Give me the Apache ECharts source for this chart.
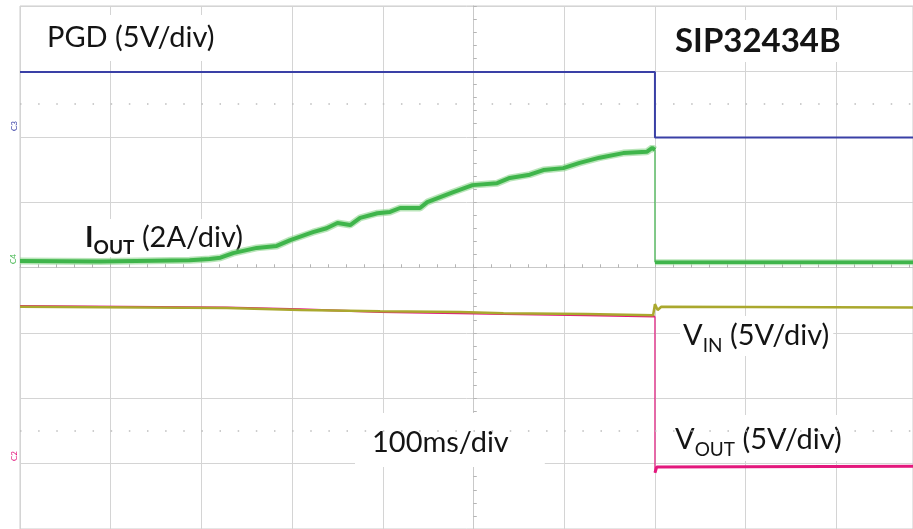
<!DOCTYPE html>
<html><head><meta charset="utf-8">
<script src="https://cdn.jsdelivr.net/npm/echarts@6/dist/echarts.min.js"></script>
<style>html,body{margin:0;padding:0;background:#fff}#c{width:913px;height:529px}</style>
</head><body><div id="c"></div>
<script>
// time in ms relative to screen centre (100 ms/div; the screenshot is cropped a little on the right),
// level in divisions relative to screen centre
const timeRange = [-500, 484.5];
const levelRange = [-4, 4];

// PGD (5V/div)
const pgd = [[-500, 2.99], [200, 2.99], [200, 1.99], [484.5, 1.99]];
// IOUT (2A/div) before and after the switch-off edge
const ioutRamp = [[-500, 0.10], [-412, 0.09], [-313, 0.11], [-291, 0.13], [-279, 0.15], [-265, 0.22],
  [-239, 0.30], [-217, 0.33], [-202, 0.42], [-177, 0.54], [-162, 0.60], [-150, 0.68], [-136, 0.65],
  [-125, 0.76], [-106, 0.83], [-92, 0.85], [-81, 0.91], [-59, 0.91], [-51, 1.00], [-23, 1.15],
  [-1, 1.26], [26, 1.29], [40, 1.37], [62, 1.42], [77, 1.49], [99, 1.52], [117, 1.60], [139, 1.68],
  [165, 1.75], [191, 1.77], [197, 1.83], [200, 1.80]];
const ioutOff = [[200, 0.08], [484.5, 0.08]];
// VIN (5V/div)
const vin = [[-500, -0.60], [-272, -0.62], [-191, -0.65], [-103, -0.67], [-15, -0.68], [33, -0.70],
  [124, -0.71], [198, -0.73], [200, -0.56], [203, -0.65], [207, -0.60], [484.5, -0.61]];
// VOUT (5V/div)
const voutOn = [[-500, -0.59], [-272, -0.61], [-191, -0.64], [-103, -0.68], [-15, -0.70], [33, -0.71],
  [124, -0.73], [200, -0.75]];
const voutOff = [[200, -3.14], [202, -3.05], [484.5, -3.04]];
const cursorLevels = [2.5, -2.5];

const FONT = 'Lato, "Open Sans", sans-serif';
const TXT = '#141414';

const chart = echarts.init(document.getElementById('c'), null, {renderer: 'canvas'});

function xAx(inside, grid) {
  return {
    type: 'value', min: timeRange[0], max: timeRange[1], interval: 100,
    axisLine: {show: true, onZero: true, onZeroAxisIndex: 0, lineStyle: {color: '#c9c9c9', width: 1}},
    axisTick: {show: true, inside: inside, length: 3, lineStyle: {color: '#b5b5b5'}},
    minorTick: {show: true, splitNumber: 5, length: 3, lineStyle: {color: '#b5b5b5'}},
    axisLabel: {show: false},
    splitLine: {show: grid, lineStyle: {color: '#d4d4d4', width: 1}}
  };
}
function yAx(inside, grid) {
  return {
    type: 'value', min: levelRange[0], max: levelRange[1], interval: 1,
    axisLine: {show: true, onZero: true, onZeroAxisIndex: 0, lineStyle: {color: '#c9c9c9', width: 1}},
    axisTick: {show: true, inside: inside, length: 3, lineStyle: {color: '#b5b5b5'}},
    minorTick: {show: true, splitNumber: 5, length: 3, lineStyle: {color: '#b5b5b5'}},
    axisLabel: {show: false},
    splitLine: {show: grid, lineStyle: {color: '#d4d4d4', width: 1}}
  };
}
function trace(data, color, width, z, opacity) {
  return {type: 'line', data: data, showSymbol: false, symbol: 'none', silent: true, z: z,
    lineStyle: {color: color, width: width, opacity: opacity == null ? 1 : opacity}, animation: false};
}
function edge(a, b, color, width, z) {
  return trace([a[a.length - 1], b[0]], color, width, z);
}

const BLUE = '#3a40a6', GREEN = '#3fb54b', OLIVE = '#aaa82e', PINK = '#e3187d';

const series = [
  {type: 'line', data: [], z: 0, silent: true, animation: false,
    markLine: {silent: true, symbol: 'none', label: {show: false}, animation: false,
      lineStyle: {color: '#bdbdbd', width: 1.5, type: [1.5, 16.64]},
      data: cursorLevels.map(v => ({yAxis: v}))}},
  trace(voutOn, PINK, 2, 2),
  edge(voutOn, voutOff, PINK, 1.2, 2),
  trace(voutOff, PINK, 3, 2),
  trace(vin, OLIVE, 2.5, 3),
  trace(ioutRamp, '#7fd07f', 7, 4, 0.55),
  trace(ioutOff, '#7fd07f', 6, 4, 0.55),
  trace(ioutRamp, GREEN, 4, 4),
  edge(ioutRamp, ioutOff, GREEN, 1.2, 4),
  trace(ioutOff, GREEN, 3.5, 4),
  trace(pgd, BLUE, 2, 5)
];

function label(x, y, text, rich, extra) {
  return {type: 'text', z: 1, x: x, y: y, style: Object.assign({
    text: text, rich: rich, fill: TXT, font: '29px ' + FONT,
    backgroundColor: '#fff', padding: [2, 4],
    align: 'left', verticalAlign: 'middle', textAlign: 'left', textVerticalAlign: 'middle'
  }, extra || {})};
}
const R = {fontFamily: FONT, fontSize: 29, lineHeight: 38, color: TXT, verticalAlign: 'middle'};
const B = Object.assign({}, R, {fontWeight: 'bold'});
const S = {fontFamily: FONT, fontSize: 19, lineHeight: 18, color: TXT, verticalAlign: 'bottom'};
const SB = Object.assign({}, S, {fontWeight: 'bold'});

function marker(x, y, text, color) {
  return {type: 'text', z: 1, x: x, y: y, rotation: Math.PI / 2,
    style: {text: text, fill: color, font: '8px ' + FONT, align: 'center', verticalAlign: 'middle'}};
}

chart.setOption({
  backgroundColor: '#fff',
  animation: false,
  grid: {left: 20, right: 0, top: 6, bottom: 0, show: true, borderColor: '#cdcdcd', borderWidth: 1, backgroundColor: '#fff'},
  xAxis: [xAx(true, true), xAx(false, false)],
  yAxis: [yAx(true, true), yAx(false, false)],
  series: series,
  graphic: [
    label(43, 38, '{r|PGD (5V/div)}', {r: R}, {padding: [4, 6, 4, 4]}),
    label(671, 41, '{b|SIP32434B}', {b: Object.assign({}, B, {fontSize: 33})}),
    label(82, 238, '{b|I}{s|OUT}{r| (2A/div)}', {b: B, s: SB, r: R}, {padding: [0, 3, 0, 3]}),
    label(680, 336, '{r|V}{s|IN}{r| (5V/div)}', {r: R, s: S}, {padding: [1, 4, 1, 3]}),
    label(671, 438, '{r|V}{s|OUT}{r| (5V/div)}', {r: R, s: S}, {padding: [6, 4, 2, 4]}),
    label(355, 440, '{r|100ms/div}', {r: R}, {padding: [11, 36, 5, 17]}),
    marker(14, 126, 'C3', BLUE),
    marker(13, 259, 'C4', GREEN),
    marker(14, 456, 'C2', PINK)
  ]
});
</script></body></html>
